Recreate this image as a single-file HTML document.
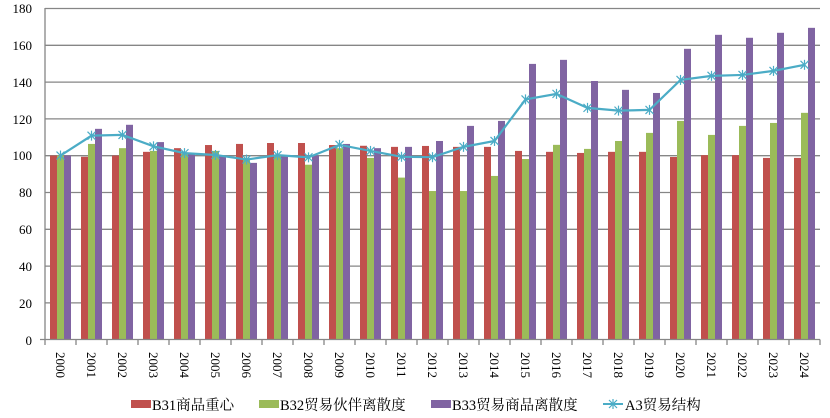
<!DOCTYPE html>
<html><head><meta charset="utf-8"><style>
html,body{margin:0;padding:0;background:#fff;}
svg{display:block;font-family:"Liberation Serif","Noto Serif CJK SC","Noto Sans CJK SC",serif;}
</style></head><body>
<svg id="c" width="830" height="418" xmlns="http://www.w3.org/2000/svg">
<g id="grid" stroke="#868686" stroke-width="1.3">
<line x1="45" y1="8.5" x2="820" y2="8.5"/>
<line x1="45" y1="45.3" x2="820" y2="45.3"/>
<line x1="45" y1="82.1" x2="820" y2="82.1"/>
<line x1="45" y1="118.9" x2="820" y2="118.9"/>
<line x1="45" y1="155.7" x2="820" y2="155.7"/>
<line x1="45" y1="192.5" x2="820" y2="192.5"/>
<line x1="45" y1="229.3" x2="820" y2="229.3"/>
<line x1="45" y1="266.1" x2="820" y2="266.1"/>
<line x1="45" y1="302.9" x2="820" y2="302.9"/>
</g>
<g font-size="13" fill="#000" text-anchor="end">
<text x="32" y="13">180</text><text x="32" y="50">160</text><text x="32" y="87">140</text>
<text x="32" y="124">120</text><text x="32" y="160">100</text><text x="32" y="197">80</text>
<text x="32" y="234">60</text><text x="32" y="271">40</text><text x="32" y="308">20</text>
<text x="32" y="345">0</text>
</g>
<g id="bars"></g>
<g id="axes" stroke="#868686" stroke-width="1.3">
<line x1="45" y1="8" x2="45" y2="340"/>
<line x1="40" y1="339.5" x2="820" y2="339.5"/>
</g>
<g id="ticks" stroke="#868686" stroke-width="1.3"></g>
<g id="line"></g>
<g font-size="13" fill="#000">
<text transform="translate(56,352) rotate(90)">2000</text>
<text transform="translate(87,352) rotate(90)">2001</text>
<text transform="translate(118,352) rotate(90)">2002</text>
<text transform="translate(149,352) rotate(90)">2003</text>
<text transform="translate(180,352) rotate(90)">2004</text>
<text transform="translate(211,352) rotate(90)">2005</text>
<text transform="translate(242,352) rotate(90)">2006</text>
<text transform="translate(273,352) rotate(90)">2007</text>
<text transform="translate(304,352) rotate(90)">2008</text>
<text transform="translate(335,352) rotate(90)">2009</text>
<text transform="translate(366,352) rotate(90)">2010</text>
<text transform="translate(397,352) rotate(90)">2011</text>
<text transform="translate(428,352) rotate(90)">2012</text>
<text transform="translate(459,352) rotate(90)">2013</text>
<text transform="translate(490,352) rotate(90)">2014</text>
<text transform="translate(521,352) rotate(90)">2015</text>
<text transform="translate(552,352) rotate(90)">2016</text>
<text transform="translate(583,352) rotate(90)">2017</text>
<text transform="translate(614,352) rotate(90)">2018</text>
<text transform="translate(645,352) rotate(90)">2019</text>
<text transform="translate(676,352) rotate(90)">2020</text>
<text transform="translate(707,352) rotate(90)">2021</text>
<text transform="translate(738,352) rotate(90)">2022</text>
<text transform="translate(769,352) rotate(90)">2023</text>
<text transform="translate(800,352) rotate(90)">2024</text>
</g>
<g font-size="14.5" fill="#000">
<rect x="131" y="400" width="20" height="8" fill="#c0504d"/>
<text x="152" y="410">B31商品重心</text>
<rect x="259" y="400" width="20" height="8" fill="#9bbb59"/>
<text x="280" y="410">B32贸易伙伴离散度</text>
<rect x="431" y="400" width="20" height="8" fill="#8064a2"/>
<text x="452" y="410">B33贸易商品离散度</text>
<line x1="603" y1="404" x2="623" y2="404" stroke="#4bacc6" stroke-width="2"/>
<g stroke="#4bacc6" stroke-width="1.2"><line x1="609" y1="400" x2="617" y2="408"/><line x1="609" y1="408" x2="617" y2="400"/><line x1="613" y1="399" x2="613" y2="409"/></g>
<text x="625" y="410">A3贸易结构</text>
</g>
</svg>
<script>
var R=[100,99.3,100,102,104,105.7,106.3,106.8,106.8,105.7,105.3,104.7,105.2,104.7,104.7,102.5,102,101.4,102,102,99.2,100.2,100.2,98.7,98.7];
var G=[100,106.3,104,102.5,101,102.5,98,100,95,104,98.7,88,80.7,80.7,88.9,98.1,105.8,103.6,107.9,112.3,118.8,111.2,116.1,117.7,123.2];
var P=[100,114.5,116.7,107.3,101,100,96,100,100,106.3,104,104.7,107.9,116.1,118.8,149.8,152,140.5,135.7,134,158,165.6,164,166.7,169.4];
var L=[100,110.8,111.2,105,101.3,100.3,97.8,100.2,99,105.8,102.5,99.3,99.1,104.7,107.9,130.5,133.5,125.9,124.4,124.8,141.1,143.3,143.8,146,149.3];
var ns="http://www.w3.org/2000/svg";
function Y(v){return 339.5-v*1.8398;}
function el(t,a,p){var e=document.createElementNS(ns,t);for(var k in a)e.setAttribute(k,a[k]);p.appendChild(e);return e;}
var bars=document.getElementById('bars'),ticks=document.getElementById('ticks'),lg=document.getElementById('line');
var cw=31,x0=45,pts=[];
for(var i=0;i<25;i++){
 var bx=x0+i*cw+5;
 [[R,'#c0504d'],[G,'#9bbb59'],[P,'#8064a2']].forEach(function(s,j){
  var y=Y(s[0][i]);el('rect',{x:bx+j*7,y:y,width:7,height:339.5-y,fill:s[1]},bars);});
 pts.push((x0+i*cw+cw/2)+','+Y(L[i]));
}
for(var i=0;i<=25;i++){var tx=x0+i*cw;el('line',{x1:tx,y1:339.5,x2:tx,y2:345},ticks);}
el('polyline',{points:pts.join(' '),fill:'none',stroke:'#4bacc6','stroke-width':2.2},lg);
pts.forEach(function(p){var a=p.split(',').map(Number);var g=el('g',{stroke:'#4bacc6','stroke-width':1.2},lg);
 el('line',{x1:a[0]-4,y1:a[1]-4,x2:a[0]+4,y2:a[1]+4},g);el('line',{x1:a[0]-4,y1:a[1]+4,x2:a[0]+4,y2:a[1]-4},g);
 el('line',{x1:a[0],y1:a[1]-5,x2:a[0],y2:a[1]+5},g);});
</script>
</body></html>
